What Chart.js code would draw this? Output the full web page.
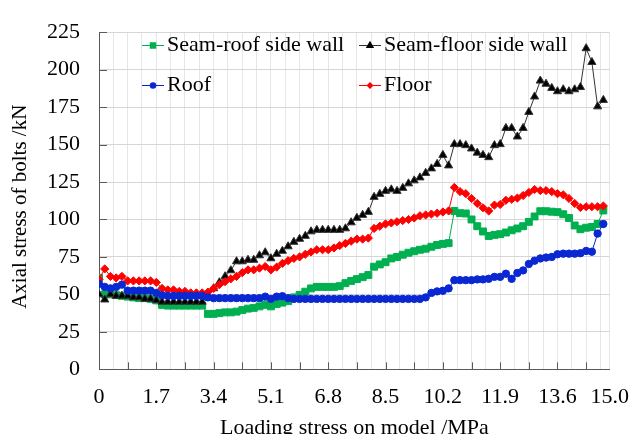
<!DOCTYPE html>
<html>
<head>
<meta charset="utf-8">
<script src="https://cdn.jsdelivr.net/npm/chart.js@4/dist/chart.umd.min.js"></script>
<style>
  html, body { margin: 0; padding: 0; background: #ffffff; }
  #wrap { width: 644px; height: 434px; position: relative; }
</style>
</head>
<body>
<div id="wrap"><canvas id="chart"></canvas></div>
<script>
// Loading stress applied to the model (MPa), one entry per loading step
const stress = [
  0, 0.17, 0.34, 0.51, 0.68, 0.85, 1.02, 1.19, 1.36, 1.53,
  1.70, 1.87, 2.04, 2.21, 2.38, 2.55, 2.72, 2.89, 3.06, 3.23,
  3.40, 3.57, 3.74, 3.91, 4.08, 4.25, 4.42, 4.59, 4.76, 4.93,
  5.10, 5.27, 5.44, 5.61, 5.78, 5.95, 6.12, 6.29, 6.46, 6.63,
  6.80, 6.97, 7.14, 7.31, 7.48, 7.65, 7.82, 7.99, 8.16, 8.33,
  8.50, 8.67, 8.84, 9.01, 9.18, 9.35, 9.52, 9.69, 9.86, 10.03,
  10.20, 10.37, 10.54, 10.71, 10.88, 11.05, 11.22, 11.39, 11.56, 11.73,
  11.90, 12.07, 12.24, 12.41, 12.58, 12.75, 12.92, 13.09, 13.26, 13.43,
  13.60, 13.77, 13.94, 14.11, 14.28, 14.45, 14.62, 14.79, 14.96
];

// Axial stress of bolts (kN) at each loading step
const seamRoofSideWall = [
  61, 50, 50, 49.5, 49, 48.5, 48, 47.5, 47.5, 47,
  46, 43, 42.5, 42.5, 42.5, 42.5, 42.5, 42.5, 42.5, 37,
  37, 37.5, 38, 38, 38.5, 39.5, 40.5, 41, 42, 43,
  42, 43.5, 44.5, 45.5, 48, 49.7, 51.8, 54, 55, 55,
  55, 55, 55.5, 57.5, 59, 60.2, 61.5, 63, 68.5, 70,
  71.5, 74, 75, 76.5, 77.8, 78.8, 79.8, 80.5, 81.8, 83,
  83.7, 84.2, 105.7, 104.2, 104, 100, 95.5, 92, 89, 89.7,
  90.2, 91.3, 92.8, 94, 95.5, 98.4, 102, 105.5, 105.5, 105.2,
  104.9, 103.5, 101, 96, 93.5, 94.5, 95, 97, 106
];

const seamFloorSideWall = [
  50, 46.5, 50, 49, 49, 49, 48, 48, 47, 47,
  46, 45, 45, 45, 45, 45, 45, 45, 45, 49,
  54, 58, 62, 66, 72, 72, 73, 73, 76, 78,
  74, 77, 79, 82, 85, 87, 89, 92, 93, 93,
  93, 93, 93, 94, 98, 101, 103, 105, 115, 117,
  119, 120, 119, 121, 124, 126, 128, 131, 134, 137,
  143, 136, 150.2, 150.2, 149.5, 147.3, 144.5, 143, 141.5, 149.5,
  150.2, 161, 161, 155.3, 161, 171.7, 182, 192.6, 190.5, 187.7,
  185.5, 186.8, 185.5, 186.8, 188.3, 214.2, 205, 175.4, 179.7
];

const roof = [
  57, 55, 54, 55, 56.5, 52.5, 52.5, 52.5, 52.5, 52.5,
  51, 49.5, 49, 49, 49, 49, 49, 49, 49, 48,
  47.5, 47.5, 47.5, 47.5, 47.5, 47.5, 47.5, 47.5, 47.5, 48.5,
  47, 48.5, 48.8, 47.5, 47, 47, 47, 47, 47, 47,
  47, 47, 47, 47, 47, 47, 47, 47, 47, 47,
  47, 47, 47, 47, 47, 47, 47, 48, 51, 52,
  52.4, 54, 59.5, 59.5, 59.5, 59.5, 60, 60, 60.4, 61.7,
  61.7, 63.8, 60.4, 64.3, 66, 70.3, 72.5, 74, 74.6, 75,
  76.8, 77.2, 77.2, 77.2, 77.5, 79, 78.5, 90.6, 97
];

const floor = [
  60, 67, 62, 61, 62, 59, 59, 59, 59, 59,
  58, 54, 53, 53, 52, 52, 51, 51, 51, 51.5,
  54, 56.5, 58.5, 60.4, 62, 64.5, 66.4, 66.4, 67.5, 68.6,
  66.4, 68.2, 70.7, 72.5, 74, 75, 76.8, 78.3, 79.8, 79.8,
  79.8, 81, 82.6, 84, 85.5, 86.9, 86.9, 87.6, 94, 95.5,
  97, 97.7, 98.5, 99.3, 100, 101, 102.5, 103, 103.6, 104.2,
  105, 105.7, 121.4, 118.6, 117.2, 114, 110.7, 107.8, 105.7, 109.6,
  110, 112.8, 113.5, 114.3, 116, 118, 120, 119.3, 119.3, 118.6,
  117.2, 116.5, 114, 110.7, 108, 108.5, 108.5, 108.5, 109
];

const seriesNames = ['Seam-roof side wall', 'Seam-floor side wall', 'Roof', 'Floor'];
const xTickLabels = ['0', '1.7', '3.4', '5.1', '6.8', '8.5', '10.2', '11.9', '13.6', '15.0'];
const yTickLabels = ['0', '25', '50', '75', '100', '125', '150', '175', '200', '225'];
const yAxisTitle = 'Axial stress of bolts /kN';

// ---- axis geometry ----
const X_MAX = 15.15;          // axis runs slightly past the last step
const X_GRID_STEP = 0.425;    // light vertical grid
const X_MARK_STEP = 0.85;     // inward tick marks
const AXIS_COLOR = '#595959';
const SERIF = "'Liberation Serif', 'Times New Roman', serif";

const xGridValues = [];
for (let k = 0; k * X_GRID_STEP < 15; k++) xGridValues.push(+(k * X_GRID_STEP).toFixed(3));
xGridValues.push(X_MAX);

function labelForX(value) {
  if (value === X_MAX) return xTickLabels[xTickLabels.length - 1];
  const k = Math.round(value / 1.7);
  if (Math.abs(k * 1.7 - value) < 1e-6 && k < xTickLabels.length - 1) return xTickLabels[k];
  return '';
}

const toPoints = arr => stress.map((x, i) => ({ x: x, y: arr[i] }));

// Inward-pointing tick marks on both axes, plus the rotated y-axis title
const axisExtras = {
  id: 'axisExtras',
  beforeDatasetsDraw(chart) {
    const { ctx, chartArea, scales } = chart;
    ctx.save();
    ctx.strokeStyle = AXIS_COLOR;
    ctx.lineWidth = 1;
    ctx.beginPath();
    for (let k = 0; k * X_MARK_STEP < 15; k++) {
      const px = Math.round(scales.x.getPixelForValue(k * X_MARK_STEP)) + 0.5;
      ctx.moveTo(px, chartArea.bottom);
      ctx.lineTo(px, chartArea.bottom - 7);
    }
    for (let v = 0; v <= 225; v += 25) {
      const py = Math.round(scales.y.getPixelForValue(v)) + 0.5;
      ctx.moveTo(chartArea.left, py);
      ctx.lineTo(chartArea.left + 8, py);
    }
    ctx.stroke();

    ctx.translate(20, (chartArea.top + chartArea.bottom) / 2 + 6);
    ctx.rotate(-Math.PI / 2);
    ctx.fillStyle = '#000000';
    ctx.font = '21px ' + SERIF;
    ctx.textAlign = 'center';
    ctx.textBaseline = 'middle';
    ctx.fillText(yAxisTitle, 0, 0);
    ctx.restore();
  }
};

function drawMarker(ctx, style, cx, cy, size, color) {
  ctx.fillStyle = color;
  ctx.beginPath();
  if (style === 'rect') {
    ctx.rect(cx - size / 2, cy - size / 2, size, size);
  } else if (style === 'triangle') {
    const r = size * 0.6;
    ctx.moveTo(cx, cy - r);
    ctx.lineTo(cx + r * 0.866, cy + r / 2);
    ctx.lineTo(cx - r * 0.866, cy + r / 2);
    ctx.closePath();
  } else if (style === 'rectRot') {
    const r = size / 2;
    ctx.moveTo(cx, cy - r);
    ctx.lineTo(cx + r, cy);
    ctx.lineTo(cx, cy + r);
    ctx.lineTo(cx - r, cy);
    ctx.closePath();
  } else {
    ctx.arc(cx, cy, size / 2, 0, Math.PI * 2);
  }
  ctx.fill();
}

// Two-column legend placed inside the plot area
const insideLegend = {
  id: 'insideLegend',
  afterDraw(chart) {
    const { ctx } = chart;
    const slots = [[142, 45.5], [359, 45.5], [142, 85.5], [359, 85.5]];
    const sizes = [6.5, 8, 6.5, 7];
    ctx.save();
    chart.data.datasets.forEach((ds, i) => {
      const [x0, y] = slots[i];
      ctx.strokeStyle = ds.borderColor;
      ctx.lineWidth = 1;
      ctx.beginPath();
      ctx.moveTo(x0, y);
      ctx.lineTo(x0 + 22, y);
      ctx.stroke();
      drawMarker(ctx, ds.pointStyle, x0 + 11, y, sizes[i], ds.pointBackgroundColor);
      ctx.fillStyle = '#000000';
      ctx.font = '22px ' + SERIF;
      ctx.textAlign = 'left';
      ctx.textBaseline = 'middle';
      ctx.fillText(ds.label, x0 + 25, y);
    });
    ctx.restore();
  }
};

const green = 'rgb(0,176,80)';
const black = 'rgb(0,0,0)';
const blue = 'rgb(10,40,210)';
const red = 'rgb(255,0,0)';

new Chart(document.getElementById('chart'), {
  type: 'line',
  data: {
    datasets: [
      { label: seriesNames[0], data: toPoints(seamRoofSideWall), borderColor: green, pointBackgroundColor: green,
        pointStyle: 'rect', pointRadius: 4.9, borderWidth: 1, order: 4 },
      { label: seriesNames[1], data: toPoints(seamFloorSideWall), borderColor: '#333333', pointBackgroundColor: black,
        pointStyle: 'triangle', pointRadius: 4.7, borderWidth: 1, order: 3 },
      { label: seriesNames[2], data: toPoints(roof), borderColor: blue, pointBackgroundColor: blue,
        pointStyle: 'circle', pointRadius: 3.7, borderWidth: 1, order: 1 },
      { label: seriesNames[3], data: toPoints(floor), borderColor: red, pointBackgroundColor: red,
        pointStyle: 'rectRot', pointRadius: 4.1, borderWidth: 1, order: 2 }
    ]
  },
  options: {
    responsive: true,
    maintainAspectRatio: false,
    devicePixelRatio: 1,
    animation: false,
    layout: { padding: { left: 0, right: 20, top: 22, bottom: 0 } },
    elements: {
      line: { tension: 0, fill: false },
      point: { borderWidth: 0, hoverRadius: 4 }
    },
    plugins: {
      legend: { display: false },
      tooltip: { enabled: false }
    },
    scales: {
      x: {
        type: 'linear',
        min: 0,
        max: X_MAX,
        afterBuildTicks(scale) {
          scale.ticks = xGridValues.map(v => ({ value: v }));
        },
        afterFit(scale) { scale.height = 64.7; },
        grid: { color: '#e6e6e6', lineWidth: 1, drawTicks: false },
        border: { display: true, color: AXIS_COLOR, width: 1 },
        ticks: {
          autoSkip: false,
          maxRotation: 0,
          padding: 15,
          color: '#000000',
          font: { family: SERIF, size: 22 },
          callback: value => labelForX(value)
        },
        title: {
          display: true,
          text: 'Loading stress on model /MPa',
          color: '#000000',
          font: { family: SERIF, size: 22, lineHeight: 1.2 },
          padding: { top: 0, bottom: -7 }
        }
      },
      y: {
        min: 0,
        max: 225,
        afterFit(scale) { scale.width = 99; },
        grid: { color: '#d6d6d6', lineWidth: 1, drawTicks: false },
        border: { display: true, color: AXIS_COLOR, width: 1 },
        ticks: {
          stepSize: 25,
          padding: 19,
          color: '#000000',
          font: { family: SERIF, size: 22 },
          callback: value => yTickLabels[Math.round(value / 25)]
        },
        title: { display: false }
      }
    }
  },
  plugins: [axisExtras, insideLegend]
});
</script>
</body>
</html>
